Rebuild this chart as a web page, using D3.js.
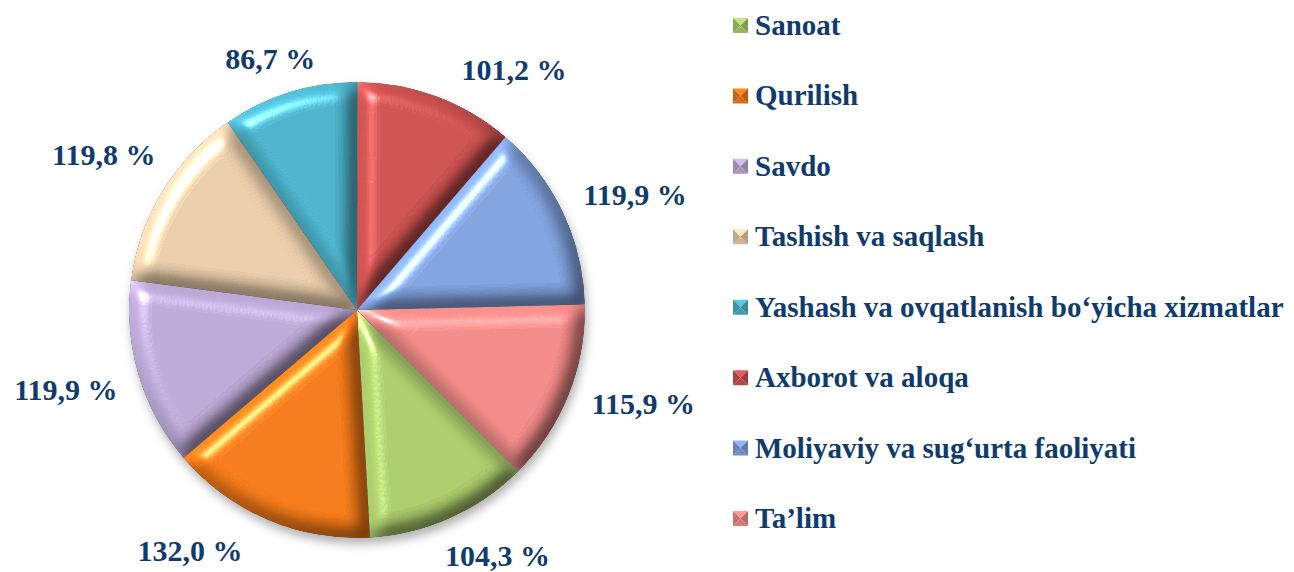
<!DOCTYPE html>
<html>
<head>
<meta charset="utf-8">
<script src="https://cdn.jsdelivr.net/npm/d3@7"></script>
<style>
  body { margin: 0; background: #fff; }
  text { font-family: "Liberation Serif", "Times New Roman", serif; font-weight: bold; fill: #103b6d; }
</style>
</head>
<body>
<script>
// data, in legend order
var categories = ["Sanoat", "Qurilish", "Savdo", "Tashish va saqlash",
    "Yashash va ovqatlanish bo\u2018yicha xizmatlar", "Axborot va aloqa",
    "Moliyaviy va sug\u2018urta faoliyati", "Ta\u2019lim"];
var values = [104.3, 132.0, 119.9, 119.8, 86.7, 101.2, 119.9, 115.9];
var colors = ["#a8c86a", "#f07818", "#b9a6d2", "#e6caa8", "#4aafc7", "#c9504e", "#7e9fda", "#ee8886"];

// label placement tweaks (labels were dragged by hand in the original)
var labelNudge = [[22, -19], [-53, -26], [-13, -2], [-6, -4], [-1, 26], [56, 32], [16, 9], [17, -14]];

var width = 1294, height = 572;
var cx = 357, cy = 310, radius = 228;
var firstSliceAngle = 135; // degrees, clockwise from 12 o'clock

var svg = d3.select("body").append("svg")
    .attr("width", width)
    .attr("height", height);

var defs = svg.append("defs");

// soft shadow under the pie
var sh = defs.append("filter").attr("id", "shadow")
    .attr("x", "-20%").attr("y", "-20%").attr("width", "140%").attr("height", "140%");
sh.append("feGaussianBlur").attr("stdDeviation", 5);

// bevel look for each slice
var f = defs.append("filter").attr("id", "bevel")
    .attr("x", "-5%").attr("y", "-5%").attr("width", "110%").attr("height", "110%")
    .attr("color-interpolation-filters", "sRGB");
f.append("feGaussianBlur").attr("in", "SourceAlpha").attr("stdDeviation", 9).attr("result", "blur");
f.append("feDiffuseLighting").attr("in", "blur").attr("surfaceScale", 14)
    .attr("diffuseConstant", 0.65).attr("lighting-color", "#fff").attr("result", "diff")
    .append("feDistantLight").attr("azimuth", 225).attr("elevation", 50);
f.append("feComposite").attr("in", "SourceGraphic").attr("in2", "diff")
    .attr("operator", "arithmetic").attr("k1", 1.0).attr("k2", 0.5).attr("k3", 0).attr("k4", 0)
    .attr("result", "shaded");
f.append("feSpecularLighting").attr("in", "blur").attr("surfaceScale", 14)
    .attr("specularConstant", 0.45).attr("specularExponent", 30).attr("lighting-color", "#fff")
    .attr("result", "spec")
    .append("feDistantLight").attr("azimuth", 225).attr("elevation", 40);
f.append("feComposite").attr("in", "spec").attr("in2", "SourceAlpha").attr("operator", "in").attr("result", "specIn");
f.append("feComposite").attr("in", "shaded").attr("in2", "specIn")
    .attr("operator", "arithmetic").attr("k1", 0).attr("k2", 1).attr("k3", 1).attr("k4", 0)
    .attr("result", "lit");
f.append("feComposite").attr("in", "lit").attr("in2", "SourceAlpha").attr("operator", "in");

var start = firstSliceAngle * Math.PI / 180;
var pie = d3.pie()
    .sort(null)
    .value(function(d) { return d; })
    .startAngle(start)
    .endAngle(start + 2 * Math.PI);

var arcs = pie(values);

var arc = d3.arc().innerRadius(0).outerRadius(radius);

var g = svg.append("g").attr("transform", "translate(" + cx + "," + cy + ")");

g.append("circle")
    .attr("cx", 2)
    .attr("cy", 6)
    .attr("r", radius)
    .attr("fill", "rgba(0,0,0,0.3)")
    .attr("filter", "url(#shadow)");

g.selectAll("path.slice")
    .data(arcs)
    .enter()
    .append("path")
    .attr("class", "slice")
    .attr("d", arc)
    .attr("fill", function(d, i) { return colors[i]; })
    .attr("filter", "url(#bevel)");

// value labels
var fmt = d3.format(".1f");
var labelR = 290;

g.selectAll("text.val")
    .data(arcs)
    .enter()
    .append("text")
    .attr("class", "val")
    .attr("text-anchor", "middle")
    .attr("font-size", 30)
    .attr("x", function(d, i) {
        var a = (d.startAngle + d.endAngle) / 2;
        return labelR * Math.sin(a) + labelNudge[i][0];
    })
    .attr("y", function(d, i) {
        var a = (d.startAngle + d.endAngle) / 2;
        return -labelR * Math.cos(a) + labelNudge[i][1] + 10;
    })
    .text(function(d) { return fmt(d.data).replace(".", ",") + " %"; });

// legend
var legend = svg.append("g").attr("transform", "translate(733,35)");
var rowStep = 70.43, box = 15;

var item = legend.selectAll("g.item")
    .data(categories)
    .enter()
    .append("g")
    .attr("class", "item")
    .attr("transform", function(d, i) { return "translate(0," + (i * rowStep) + ")"; });

// little pyramid-style key
item.each(function(d, i) {
    var k = d3.select(this);
    var c = d3.color(colors[i]);
    var x0 = 0, y0 = -box - 2, x1 = box, y1 = -2, mx = box / 2, my = y0 + box / 2;
    var tris = [
        [[x0, y0], [x1, y0], [mx, my], c.brighter(0.4)],
        [[x0, y0], [x0, y1], [mx, my], c.darker(0.5)],
        [[x1, y0], [x1, y1], [mx, my], c.darker(0.7)],
        [[x0, y1], [x1, y1], [mx, my], c.darker(0.3)]
    ];
    tris.forEach(function(t) {
        k.append("path")
            .attr("d", "M" + t[0] + "L" + t[1] + "L" + t[2] + "Z")
            .attr("fill", t[3]);
    });
});

item.append("text")
    .attr("x", 22)
    .attr("y", 0)
    .attr("font-size", 29)
    .text(function(d) { return d; });
</script>
</body>
</html>
